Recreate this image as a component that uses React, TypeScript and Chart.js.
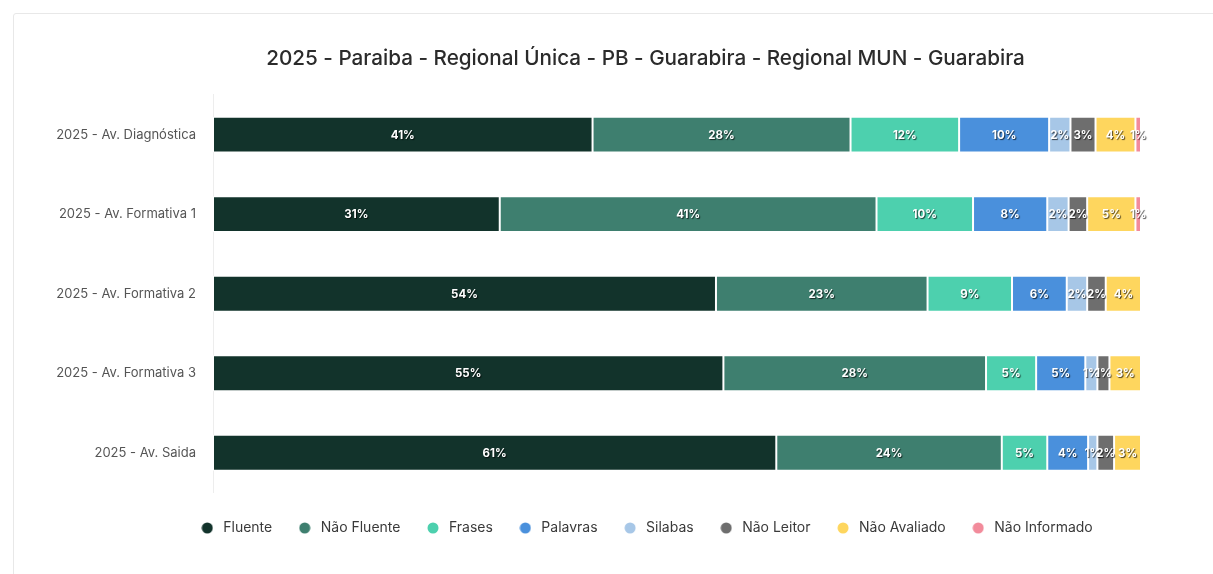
import React, { useEffect, useRef } from "react";
import { Chart, registerables } from "chart.js";

Chart.register(...registerables);

const titleText = "2025 - Paraiba - Regional Única - PB - Guarabira - Regional MUN - Guarabira";

const categories = [
  "2025 - Av. Diagnóstica",
  "2025 - Av. Formativa 1",
  "2025 - Av. Formativa 2",
  "2025 - Av. Formativa 3",
  "2025 - Av. Saida",
];

const seriesNames = [
  "Fluente",
  "Não Fluente",
  "Frases",
  "Palavras",
  "Silabas",
  "Não Leitor",
  "Não Avaliado",
  "Não Informado",
];

const fluente = [40.9, 30.9, 54.2, 55.0, 60.7];
const naoFluente = [27.8, 40.6, 22.8, 28.3, 24.3];
const frases = [11.7, 10.4, 9.1, 5.4, 4.9];
const palavras = [9.7, 8.0, 5.9, 5.3, 4.4];
const silabas = [2.3, 2.3, 2.2, 1.3, 1.0];
const naoLeitor = [2.7, 2.0, 2.0, 1.3, 1.8];
const naoAvaliado = [4.3, 5.2, 3.8, 3.4, 2.9];
const naoInformado = [0.6, 0.6, 0, 0, 0];

const seriesValues = [fluente, naoFluente, frases, palavras, silabas, naoLeitor, naoAvaliado, naoInformado];

const seriesColors = [
  "#12332b",
  "#3e7f6f",
  "#4dd0ae",
  "#4a90dc",
  "#a7c7e7",
  "#6e6e6e",
  "#fed65e",
  "#f28b9b",
];

const FONT = "Inter";

const valueLabels = {
  id: "valueLabels",
  afterDatasetsDraw(chart: any) {
    const ctx = chart.ctx;
    ctx.save();
    ctx.font = `bold 11.5px ${FONT}`;
    ctx.textAlign = "center";
    ctx.textBaseline = "middle";
    chart.data.datasets.forEach((ds: any, i: number) => {
      const meta = chart.getDatasetMeta(i);
      if (meta.hidden) return;
      meta.data.forEach((el: any, j: number) => {
        const v = ds.data[j];
        if (!v) return;
        const { x, y, base } = el.getProps(["x", "y", "base"], true);
        const cx = (x + base) / 2;
        ctx.shadowColor = "rgba(0,0,0,0.7)";
        ctx.shadowBlur = 1;
        ctx.shadowOffsetX = 1;
        ctx.shadowOffsetY = 1;
        ctx.fillStyle = "#ffffff";
        ctx.fillText(Math.round(v) + "%", cx, y + 0.5);
      });
    });
    ctx.restore();
  },
};

// let the category labels extend to the left of the (narrow) axis box without clipping
const unclipLabels = {
  id: "unclipLabels",
  afterLayout(chart: any) {
    const y = chart.scales.y;
    if (y) y.left = 0;
  },
};

function makeMarker(color: string) {
  const c = document.createElement("canvas");
  c.width = 12;
  c.height = 12;
  const g = c.getContext("2d")!;
  g.fillStyle = color;
  g.beginPath();
  g.arc(6, 6, 5.5, 0, Math.PI * 2);
  g.fill();
  return c;
}

export default function App() {
  const ref = useRef<HTMLCanvasElement>(null);

  useEffect(() => {
    if (!ref.current) return;
    const markers = seriesColors.map(makeMarker);
    const chart = new Chart(ref.current, {
      type: "bar",
      data: {
        labels: categories,
        datasets: seriesNames.map((name, i) => ({
          label: name,
          data: seriesValues[i],
          backgroundColor: seriesColors[i],
          borderColor: "#ffffff",
          borderWidth: 1,
          borderSkipped: false,
          barPercentage: 0.452,
          categoryPercentage: 1,
        })),
      },
      options: {
        indexAxis: "y",
        responsive: false,
        animation: false,
        devicePixelRatio: 1,
        layout: { padding: { left: 150, right: 72, top: 0, bottom: 29 } },
        scales: {
          x: {
            stacked: true,
            min: 0,
            max: 100,
            display: true,
            ticks: { display: false },
            grid: { display: false, drawTicks: false },
            border: { display: false },
            afterFit: (s: any) => {
              s.height = 5;
            },
          },
          y: {
            stacked: true,
            grid: { display: false, drawTicks: false },
            border: { display: true, color: "#ededed", width: 1 },
            ticks: {
              color: "#555555",
              font: { family: FONT, size: 13 },
              padding: 17,
            },
            afterFit: (s: any) => {
              s.width = 63;
            },
          },
        },
        plugins: {
          title: {
            display: true,
            text: titleText,
            color: "#2b2b2b",
            font: { family: FONT, size: 20.7, weight: "500" },
            padding: { top: 46, bottom: 24 },
          },
          legend: {
            display: true,
            position: "bottom",
            labels: {
              usePointStyle: true,
              pointStyleWidth: 18,
              boxHeight: 12,
              padding: 23.5,
              color: "#3a3a3a",
              font: { family: FONT, size: 14 },
              generateLabels: (c: any) => {
                const items = (Chart as any).defaults.plugins.legend.labels.generateLabels(c);
                items.forEach((it: any, i: number) => {
                  it.pointStyle = markers[i];
                });
                return items;
              },
            },
          },
          tooltip: { enabled: false },
        },
      },
      plugins: [valueLabels, unclipLabels],
    } as any);
    return () => chart.destroy();
  }, []);

  return (
    <div
      style={{
        position: "fixed",
        left: 0,
        top: 0,
        width: 1213,
        height: 574,
        overflow: "hidden",
        background: "#ffffff",
      }}
    >
      <div
        style={{
          position: "absolute",
          left: 13,
          top: 13,
          width: 1400,
          height: 800,
          border: "1px solid #e8e8e8",
          borderRadius: 3,
        }}
      />
      <canvas
        ref={ref}
        width={1213}
        height={574}
        style={{ position: "absolute", left: 0, top: 0, width: 1213, height: 574 }}
      />
    </div>
  );
}
